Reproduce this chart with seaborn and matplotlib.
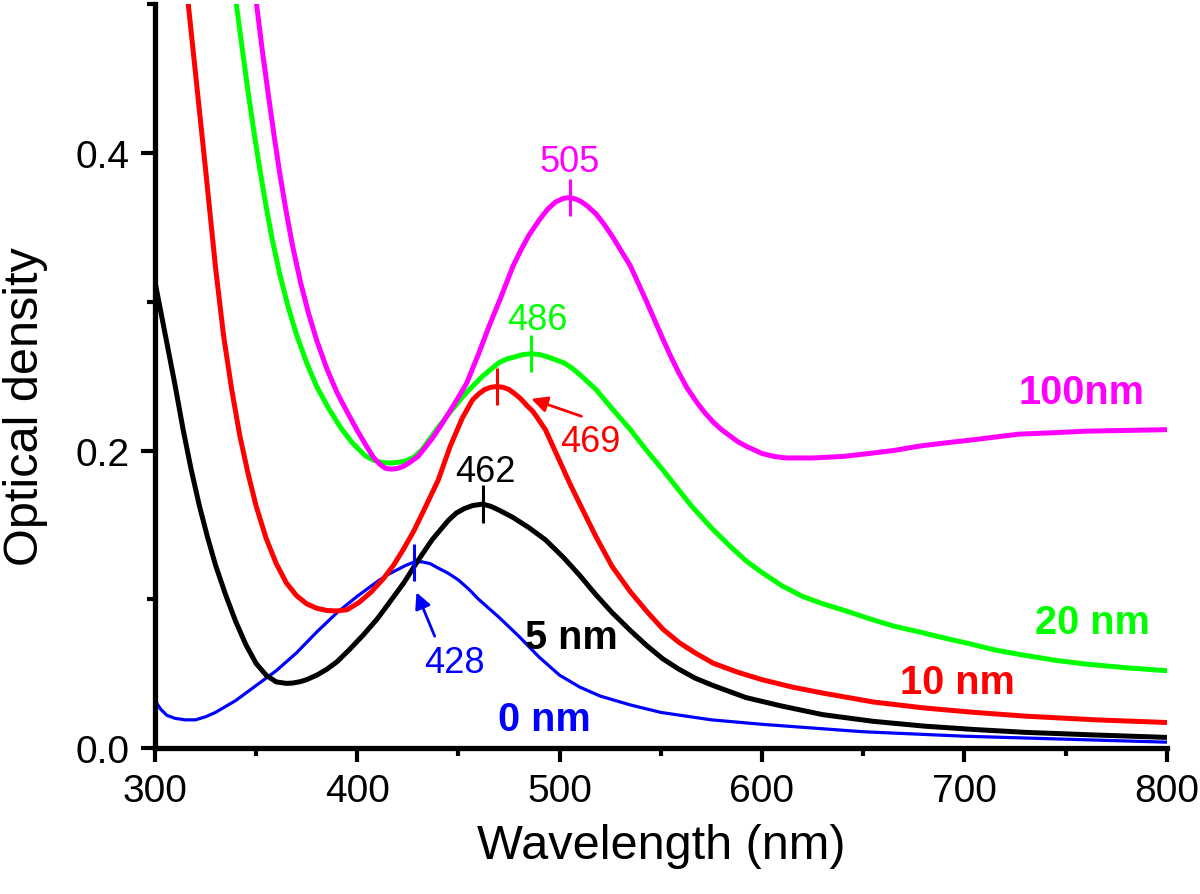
import matplotlib
matplotlib.use('Agg')
import matplotlib.pyplot as plt
from matplotlib.ticker import MultipleLocator
import numpy as np
import pandas as pd
import seaborn as sns

# spectra (wavelength nm, optical density)
nm_0 = [300, 301, 303, 306, 310, 315, 320, 325, 330, 340, 350, 360, 370, 380, 390, 400,
        410, 415, 420, 424, 428, 432, 436, 440, 445, 450, 455, 460, 470, 480, 490, 500,
        510, 520, 535, 550, 575, 600, 650, 700, 750, 800]
od_0 = [0.034, 0.030, 0.026, 0.022, 0.020, 0.019, 0.019, 0.021, 0.024, 0.032, 0.042, 0.052,
        0.064, 0.078, 0.091, 0.102, 0.112, 0.1165, 0.120, 0.1228, 0.125, 0.1252, 0.124,
        0.121, 0.1175, 0.113, 0.107, 0.100, 0.088, 0.075, 0.061, 0.049, 0.041, 0.035,
        0.029, 0.024, 0.019, 0.016, 0.011, 0.008, 0.006, 0.004]

nm_5 = [300, 305, 310, 314, 318, 322, 326, 330, 335, 340, 345, 350, 355, 360, 365, 368, 372,
        375, 380, 385, 390, 396, 403, 410, 416, 423, 430, 437, 445, 449, 453, 457, 462, 466,
        470, 477, 485, 493, 502, 510, 518, 526, 535, 543, 551, 559, 567, 576, 592, 609, 630,
        655, 680, 705, 730, 765, 800]
od_5 = [0.314, 0.279, 0.244, 0.214, 0.187, 0.163, 0.142, 0.123, 0.103, 0.085, 0.0695, 0.057,
        0.049, 0.0445, 0.0435, 0.0437, 0.0447, 0.046, 0.049, 0.053, 0.058, 0.066, 0.076,
        0.087, 0.098, 0.111, 0.126, 0.140, 0.153, 0.158, 0.161, 0.163, 0.164, 0.1625, 0.160,
        0.155, 0.148, 0.140, 0.128, 0.116, 0.103, 0.091, 0.079, 0.069, 0.060, 0.053, 0.047,
        0.042, 0.034, 0.0285, 0.0225, 0.018, 0.0148, 0.0125, 0.0106, 0.0088, 0.0072]

nm_10 = [315, 320, 325, 330, 334, 338, 342, 346, 350, 355, 360, 365, 370, 375, 380, 385, 390,
         395, 401, 407, 413, 418, 423, 428, 433, 440, 446, 452, 457, 460, 463, 466, 469, 472,
         475, 478, 481, 484, 487, 493, 500, 505, 510, 518, 526, 535, 543, 551, 559, 567, 576,
         588, 600, 615, 630, 655, 680, 705, 730, 765, 800]
od_10 = [0.52, 0.455, 0.39, 0.323, 0.277, 0.241, 0.210, 0.185, 0.163, 0.141, 0.124, 0.111,
         0.1025, 0.097, 0.094, 0.0925, 0.0922, 0.093, 0.098, 0.105, 0.114, 0.123, 0.134,
         0.146, 0.160, 0.180, 0.203, 0.222, 0.234, 0.238, 0.241, 0.2425, 0.243, 0.2425,
         0.241, 0.238, 0.2345, 0.230, 0.226, 0.214, 0.193, 0.178, 0.164, 0.142, 0.122, 0.105,
         0.092, 0.080, 0.071, 0.064, 0.057, 0.051, 0.046, 0.041, 0.037, 0.031, 0.027, 0.024,
         0.0215, 0.019, 0.0172]

nm_20 = [338, 340, 343, 346, 349, 352, 355, 358, 362, 366, 370, 375, 380, 386, 392, 398, 404,
         408, 412, 416, 420, 424, 428, 432, 436, 440, 446, 454, 462, 470, 474, 478, 482, 486,
         490, 494, 498, 502, 506, 510, 518, 526, 535, 543, 551, 558, 565, 575, 584, 592, 600,
         610, 620, 630, 642, 653, 665, 678, 690, 703, 715, 727, 745, 760, 780, 800]
od_20 = [0.525, 0.503, 0.472, 0.442, 0.414, 0.388, 0.364, 0.342, 0.317, 0.296, 0.278, 0.259,
         0.243, 0.228, 0.215, 0.2045, 0.1965, 0.1935, 0.192, 0.1915, 0.192, 0.193, 0.1955,
         0.2005, 0.208, 0.2155, 0.226, 0.239, 0.250, 0.259, 0.2615, 0.263, 0.2645, 0.265,
         0.2645, 0.263, 0.261, 0.259, 0.2555, 0.251, 0.241, 0.228, 0.214, 0.200, 0.187,
         0.175, 0.163, 0.148, 0.136, 0.126, 0.118, 0.109, 0.102, 0.097, 0.092, 0.087, 0.082,
         0.078, 0.074, 0.070, 0.066, 0.063, 0.059, 0.0565, 0.054, 0.052]

nm_100 = [348, 350, 353, 356, 359, 362, 365, 368, 372, 376, 380, 385, 390, 395, 400, 405, 408,
          411, 414, 417, 420, 423, 426, 430, 433, 437, 441, 447, 454, 460, 465, 471, 477, 481,
          485, 490, 494, 498, 502, 505, 508, 511, 514, 518, 522, 526, 535, 543, 547, 551, 555,
          559, 563, 568, 572, 576, 580, 584, 588, 592, 596, 600, 606, 612, 625, 640, 653, 665,
          678, 690, 703, 715, 727, 745, 760, 780, 800]
od_100 = [0.525, 0.503, 0.470, 0.440, 0.411, 0.384, 0.360, 0.338, 0.313, 0.292, 0.274, 0.255,
          0.239, 0.226, 0.2135, 0.202, 0.1955, 0.191, 0.188, 0.1875, 0.188, 0.1895, 0.192,
          0.196, 0.201, 0.208, 0.216, 0.229, 0.245, 0.265, 0.283, 0.303, 0.324, 0.335, 0.345,
          0.355, 0.362, 0.367, 0.3695, 0.370, 0.369, 0.367, 0.364, 0.359, 0.352, 0.344, 0.324,
          0.300, 0.2875, 0.275, 0.263, 0.252, 0.242, 0.232, 0.225, 0.219, 0.214, 0.210, 0.206,
          0.203, 0.2005, 0.198, 0.196, 0.195, 0.195, 0.196, 0.198, 0.200, 0.203, 0.205, 0.207,
          0.209, 0.211, 0.212, 0.213, 0.2135, 0.214]

# peak positions marked with short vertical bars
peak_nm = [428, 462, 469, 486, 505]
peak_od = [0.125, 0.164, 0.243, 0.265, 0.370]

series = [
    (nm_0, od_0, '#0000ff', 2.3),
    (nm_5, od_5, 'black', 3.6),
    (nm_10, od_10, '#ff0000', 3.6),
    (nm_20, od_20, '#00ff00', 3.6),
    (nm_100, od_100, '#ff00ff', 3.6),
]
peak_colors = ['#0000ff', 'black', '#ff0000', '#00ff00', '#ff00ff']

sns.set_style('ticks')
plt.rcParams['font.family'] = ['Liberation Sans', 'DejaVu Sans']
plt.rcParams.update({'text.color': 'black', 'axes.labelcolor': 'black',
                     'xtick.color': 'black', 'ytick.color': 'black',
                     'axes.edgecolor': 'black'})

fig = plt.figure(figsize=(12, 8.95), dpi=100)
ax = fig.add_axes([0.129, 0.163, 0.8433, 0.8313])

for x, y, c, lw in series:
    sns.lineplot(x=x, y=y, color=c, linewidth=lw, ax=ax)

for xp, yp, c in zip(peak_nm, peak_od, peak_colors):
    ax.vlines(xp, yp - 0.0125, yp + 0.0125, color=c, linewidth=2.2)

# peak value labels
ax.text(505, 0.394, '505', color='#ff00ff', fontsize=26, ha='center', va='center')
ax.text(489, 0.288, '486', color='#00ff00', fontsize=26, ha='center', va='center')
ax.text(463.5, 0.186, '462', color='black', fontsize=26, ha='center', va='center')
ax.text(515, 0.206, '469', color='#ff0000', fontsize=26, ha='center', va='center')
ax.text(448, 0.0577, '428', color='#0000ff', fontsize=26, ha='center', va='center')
ax.annotate('', xy=(486, 0.2347), xytext=(510.8, 0.223),
            arrowprops=dict(arrowstyle='-|>', color='#ff0000', lw=2, shrinkA=0,
                            shrinkB=0, mutation_scale=24))
ax.annotate('', xy=(429.3, 0.1047), xytext=(438.3, 0.0752),
            arrowprops=dict(arrowstyle='-|>', color='#0000ff', lw=2, shrinkA=0,
                            shrinkB=0, mutation_scale=24))

# curve labels
lab = dict(fontsize=28.5, fontweight='bold', ha='center', va='center')
ax.text(758, 0.2396, '100nm', color='#ff00ff', **lab)
ax.text(763.4, 0.0846, '20 nm', color='#00ff00', **lab)
ax.text(696.7, 0.0443, '10 nm', color='#ff0000', **lab)
ax.text(506, 0.0745, '5 nm', color='black', **lab)
ax.text(492.7, 0.0195, '0 nm', color='#0000ff', **lab)

ax.set_xlim(300, 800)
ax.set_ylim(0, 0.5)
ax.xaxis.set_major_locator(MultipleLocator(100))
ax.xaxis.set_minor_locator(MultipleLocator(50))
ax.yaxis.set_minor_locator(MultipleLocator(0.1))
ax.set_yticks([0.0, 0.2, 0.4])
ax.set_yticklabels(['0.0', '0.2', '0.4'])

sns.despine(ax=ax)
for side in ['left', 'bottom']:
    ax.spines[side].set_linewidth(3.8)
ax.tick_params(which='major', length=10, width=3, labelsize=28, pad=8, direction='out')
ax.tick_params(which='minor', length=6, width=3, direction='out')

ax.set_xlabel('Wavelength (nm)', fontsize=35)
ax.set_ylabel('Optical density', fontsize=35)
ax.xaxis.set_label_coords(0.5, -0.1)
ax.yaxis.set_label_coords(-0.106, 0.46)

fig.savefig('out.png', dpi=100)
